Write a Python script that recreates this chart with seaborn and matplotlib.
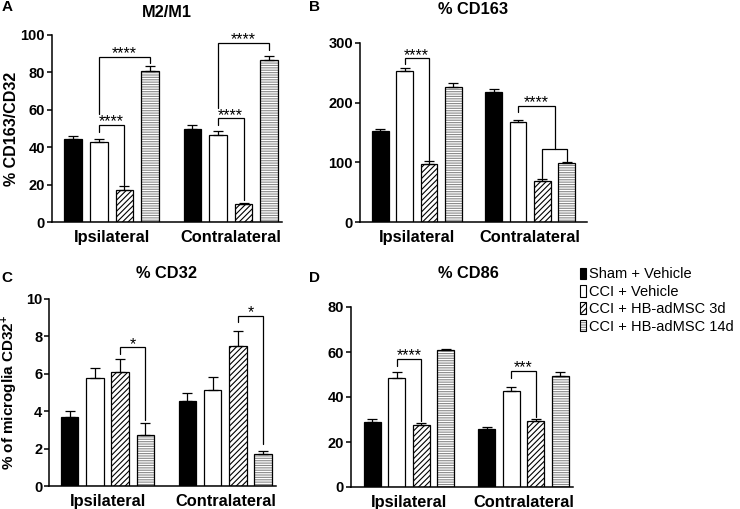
import numpy as np
import pandas as pd
import matplotlib
matplotlib.use("Agg")
import matplotlib.pyplot as plt
import matplotlib.patches as mpatches
import matplotlib.patheffects as pe
from matplotlib.container import BarContainer
import seaborn as sns

# ---------------- data ----------------
regions = ["Ipsilateral", "Contralateral"]
groups = ["Sham + Vehicle", "CCI + Vehicle", "CCI + HB-adMSC 3d", "CCI + HB-adMSC 14d"]

# Panel A: M2/M1 (% CD163/CD32)
m2m1_ipsi = [44.4, 42.6, 17.1, 80.6]
m2m1_contra = [49.7, 46.3, 9.6, 86.6]
m2m1_sem_ipsi = [1.8, 2.0, 2.0, 2.8]
m2m1_sem_contra = [2.2, 2.2, 0.5, 2.3]

# Panel B: % CD163
cd163_ipsi = [152.3, 253.2, 97.6, 227.0]
cd163_contra = [218.0, 166.8, 69.2, 99.3]
cd163_sem_ipsi = [3.3, 5.6, 3.9, 6.0]
cd163_sem_contra = [4.5, 3.9, 2.2, 0.5]

# Panel C: % CD32
cd32_ipsi = [3.71, 5.77, 6.07, 2.73]
cd32_contra = [4.57, 5.13, 7.46, 1.71]
cd32_sem_ipsi = [0.32, 0.53, 0.71, 0.63]
cd32_sem_contra = [0.39, 0.70, 0.84, 0.16]

# Panel D: % CD86
cd86_ipsi = [28.7, 48.6, 27.5, 60.7]
cd86_contra = [25.7, 42.5, 29.3, 49.4]
cd86_sem_ipsi = [1.6, 2.3, 1.0, 0.7]
cd86_sem_contra = [1.1, 2.1, 0.9, 1.9]

titles = ["M2/M1", "% CD163", "% CD32", "% CD86"]
panel_letters = ["A", "B", "C", "D"]
ylabels = ["% CD163/CD32", "", "% of microglia CD32$^{+}$", ""]
yticks_list = [[0, 20, 40, 60, 80, 100], [0, 100, 200, 300],
               [0, 2, 4, 6, 8, 10], [0, 20, 40, 60, 80]]

# significance brackets: (region, left bar(s), right bar(s), line y, left end, right end, label)
brackets_A = [(0, 1, 2, 51.9, 48.3, 19.8, "****"), (0, 1, 3, 88.4, 57.6, 84.8, "****"),
              (1, 1, 2, 55.4, 51.9, 11.8, "****"), (1, 1, 3, 95.9, 60.8, 92.0, "****")]
brackets_B = [(0, 1, 2, 274.4, 265.5, 103.7, "****"),
              (1, 2, 3, 122.0, 73.0, 102.0, ""), (1, 1, (2, 3), 194.0, 184.6, 122.0, "****")]
brackets_C = [(0, 2, 3, 7.41, 7.07, 3.54, "*"), (1, 2, 3, 9.11, 8.75, 2.23, "*")]
brackets_D = [(0, 1, 2, 56.8, 53.8, 29.4, "****"), (1, 1, 2, 51.6, 48.6, 31.2, "***")]

# ---------------- style ----------------
sns.set_style("ticks")
plt.rcParams["font.family"] = ["Liberation Sans", "DejaVu Sans"]
plt.rcParams["font.weight"] = "bold"
plt.rcParams["axes.labelweight"] = "bold"
plt.rcParams["text.color"] = "black"
plt.rcParams["axes.edgecolor"] = "black"
plt.rcParams["xtick.color"] = "black"
plt.rcParams["ytick.color"] = "black"
plt.rcParams["axes.labelcolor"] = "black"
plt.rcParams["hatch.linewidth"] = 0.8
plt.rcParams["mathtext.fontset"] = "custom"
plt.rcParams["mathtext.rm"] = "Liberation Sans:bold"
plt.rcParams["mathtext.it"] = "Liberation Sans:bold"
plt.rcParams["mathtext.bf"] = "Liberation Sans:bold"

colors = {groups[0]: "black", groups[1]: "white", groups[2]: "white", groups[3]: "white"}
hatches = [None, None, "//////", "-------"]
hatch_colors = ["black", "black", "black", "#8a8a8a"]

W, H = 740, 509
fig = plt.figure(figsize=(W / 100, H / 100), dpi=100)

def px_rect(left, right, top, bottom):
    return [left / W, 1 - bottom / H, (right - left) / W, (bottom - top) / H]

def style_patch(p, g, lw):
    if hatches[g]:
        p.set_hatch(hatches[g])
    if hatch_colors[g] != "black":
        p.set_edgecolor(hatch_colors[g])
        p.set_path_effects([pe.Stroke(linewidth=lw, foreground="black")])

axes_rects = [px_rect(52, 282, 35, 222), px_rect(360, 587, 43, 222),
              px_rect(49.3, 276, 299, 486), px_rect(350.7, 572.7, 307, 487)]
xlims = [(-0.5, 1.43), (-0.5, 1.5), (-0.494, 1.43), (-0.51, 1.43)]
title_pos = [(167, 12.7), (473.5, 9.5), (166, 273), (468, 273)]
letter_pos = [(7, 7), (314, 7), (7, 278.5), (315, 278.5)]
ylabel_x = [-0.143, None, -0.129, None]

panels = [
    (m2m1_ipsi, m2m1_contra, m2m1_sem_ipsi, m2m1_sem_contra, brackets_A),
    (cd163_ipsi, cd163_contra, cd163_sem_ipsi, cd163_sem_contra, brackets_B),
    (cd32_ipsi, cd32_contra, cd32_sem_ipsi, cd32_sem_contra, brackets_C),
    (cd86_ipsi, cd86_contra, cd86_sem_ipsi, cd86_sem_contra, brackets_D),
]

for i, (ipsi, contra, sem_i, sem_c, brackets) in enumerate(panels):
    ax = fig.add_axes(axes_rects[i])
    df = pd.DataFrame({
        "region": [regions[0]] * 4 + [regions[1]] * 4,
        "group": groups + groups,
        "value": list(ipsi) + list(contra),
        "sem": list(sem_i) + list(sem_c),
    })
    sns.barplot(data=df, x="region", y="value", hue="group", order=regions,
                hue_order=groups, palette=colors, saturation=1, width=0.857, gap=0.31,
                edgecolor="black", linewidth=0.9, errorbar=None, legend=False, ax=ax)

    bar_containers = [c for c in ax.containers if isinstance(c, BarContainer)]
    centers = []
    for g, cont in enumerate(bar_containers):
        bars = sorted(cont.patches, key=lambda p: p.get_x())
        cs = []
        for r, p in enumerate(bars):
            style_patch(p, g, 0.9)
            cs.append(p.get_x() + p.get_width() / 2)
            row = df[(df.region == regions[r]) & (df.group == groups[g])].iloc[0]
            ax.errorbar([cs[-1]], [p.get_height()], yerr=[[0], [row["sem"]]], fmt="none",
                        ecolor="black", elinewidth=0.9, capsize=3.5, capthick=0.9, zorder=3)
        centers.append(cs)

    def bx(r, g):
        if isinstance(g, tuple):
            return np.mean([centers[k][r] for k in g])
        return centers[g][r]

    for (r, g1, g2, yl, y1, y2, lab) in brackets:
        x1, x2 = bx(r, g1), bx(r, g2)
        ax.plot([x1, x1, x2, x2], [y1, yl, yl, y2], color="black", lw=0.9,
                clip_on=False, zorder=4, solid_joinstyle="miter")
        if lab:
            ax.annotate(lab, xy=((x1 + x2) / 2, yl), xytext=(0, -1), textcoords="offset points",
                        ha="center", va="baseline", fontsize=11.5, fontweight="normal",
                        annotation_clip=False)

    ax.set_xlim(*xlims[i])
    yt = yticks_list[i]
    ax.set_ylim(yt[0], yt[-1])
    ax.set_yticks(yt)
    ax.set_xlabel("")
    ax.set_ylabel(ylabels[i], fontsize=11.5 if i == 0 else 11, fontweight="bold")
    if ylabel_x[i] is not None:
        ax.yaxis.set_label_coords(ylabel_x[i], 0.5)
    ax.tick_params(axis="y", length=3.5, width=1.1, pad=1.5, labelsize=10.5)
    ax.tick_params(axis="x", length=0, pad=6, labelsize=11.8)
    for lbl in ax.get_xticklabels() + ax.get_yticklabels():
        lbl.set_fontweight("bold")
    sns.despine(ax=ax)
    for s in ["left", "bottom"]:
        ax.spines[s].set_linewidth(1.1)

    tx, ty = title_pos[i]
    fig.text(tx / W, 1 - ty / H, titles[i], ha="center", va="center",
             fontsize=11.8, fontweight="bold")
    lx, ly = letter_pos[i]
    fig.text(lx / W, 1 - ly / H, panel_letters[i], ha="center", va="center",
             fontsize=11, fontweight="bold")

# legend
handles = []
for g in range(4):
    h = mpatches.Patch(facecolor=colors[groups[g]], edgecolor="black",
                       linewidth=0.8, label=groups[g])
    style_patch(h, g, 0.8)
    handles.append(h)
fig.legend(handles=handles, loc="upper left", bbox_to_anchor=(580 / W, 1 - 267.5 / H),
           frameon=False, borderpad=0, borderaxespad=0, handlelength=0.4,
           handleheight=0.85, handletextpad=0.25, labelspacing=0.23,
           prop={"size": 10.5, "weight": "normal"})

fig.savefig("out.png", dpi=100)
